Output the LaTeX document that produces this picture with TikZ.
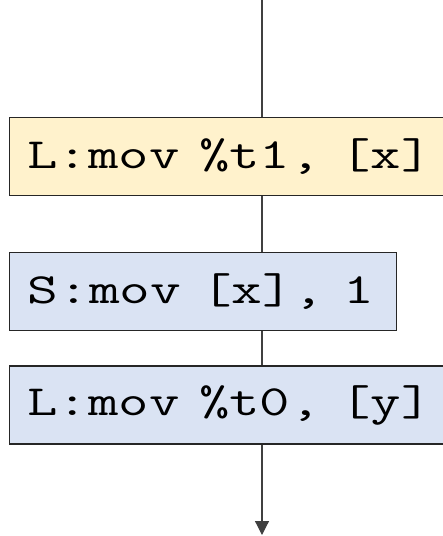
\documentclass[tikz,border=0pt]{standalone}
\usepackage{fontspec}
\usepackage{graphicx}
\definecolor{loadYellow}{RGB}{255, 242, 204}
\definecolor{storeBlue}{RGB}{218, 227, 243}
\definecolor{lineGray}{RGB}{64, 64, 64}
\usepackage{tikz}
\usetikzlibrary{positioning, arrows.meta}
\newcommand{\asmtext}[2]{\resizebox{#1}{\height}{#2}}

\begin{document}
\begin{tikzpicture}[
    x=0.5pt, y=-0.5pt,
    instr/.style={rectangle, draw=black!85, line width=0.6pt, minimum height=39pt,
                  inner xsep=9pt, inner ysep=0pt, align=left,
                  font=\ttfamily\fontsize{21.5}{26}\selectfont},
    flow/.style={draw=lineGray, line width=0.6pt},
    arrow/.style={flow, -{Triangle[length=7pt, width=7pt]}},
  ]
    \useasboundingbox (0,0) rectangle (443,536);
    \node[instr, fill=loadYellow, text width=203pt, anchor=north west] (LDX) at (9,117) {\asmtext{202pt}{L:mov \%t1, [x]}};
    \node[instr, fill=storeBlue, text width=175.5pt, below right=28pt and 0pt of LDX.south west] (STX) {\asmtext{173.5pt}{S:mov [x], 1}};
    \node[instr, fill=storeBlue, text width=203pt, below right=17pt and 0pt of STX.south west] (LDY) {\asmtext{202pt}{L:mov \%t0, [y]}};

    \coordinate (IN) at (262,0);
    \coordinate (OUT) at (262,535);

    \draw[flow] (IN) -- (LDX.north -| IN);
    \draw[flow] (LDX.south -| IN) -- (STX.north -| IN);
    \draw[flow] (STX.south -| IN) -- (LDY.north -| IN);
    \draw[arrow] (LDY.south -| IN) -- (OUT);
\end{tikzpicture}
\end{document}
